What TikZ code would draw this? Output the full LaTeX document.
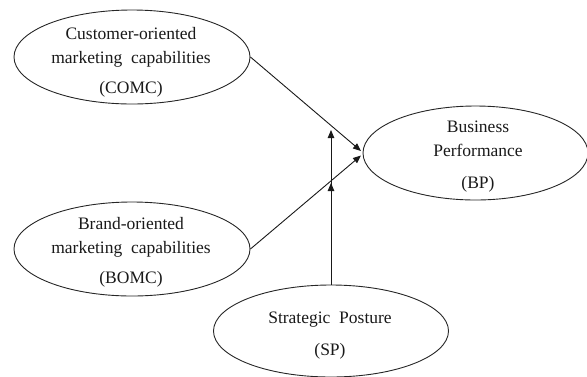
\documentclass[tikz,border=0pt]{standalone}
\usepackage{fontspec}
\setmainfont{Liberation Serif}
\usetikzlibrary{shapes.geometric,arrows.meta}
\begin{document}
\begin{tikzpicture}[x=1pt,y=-1pt,
  ellip/.style={draw=black!85,line width=0.9pt,ellipse,inner sep=0pt},
  txt/.style={align=center,font=\fontsize{17.5}{24}\selectfont,inner sep=0pt,text=black!90},
  arr/.style={draw=black!90,line width=0.9pt,-{Triangle[length=8pt,width=6.5pt]}}]
\useasboundingbox (0,0) rectangle (587,376);
\node[ellip,minimum width=236pt,minimum height=94pt] (comc) at (132,57) {};
\node[ellip,minimum width=236pt,minimum height=94pt] (bomc) at (132,249) {};
\node[ellip,minimum width=225pt,minimum height=94pt] (bp) at (475.5,153) {};
\node[ellip,minimum width=235pt,minimum height=92pt] (sp) at (331,331) {};
\node[txt] (comct) at (131,62.5) {Customer-oriented\\marketing\ \ capabilities\\[6pt](COMC)};
\node[txt] (bomct) at (131,252.5) {Brand-oriented\\marketing\ \ capabilities\\[6pt](BOMC)};
\node[txt] (bpt) at (478,156.5) {Business\\Performance\\[8pt](BP)};
\node[txt] (spt) at (330,336) {Strategic\ \ Posture\\[8pt](SP)};
\coordinate (bpa) at (361,151);
\coordinate (bpb) at (361,155.5);
\coordinate (t1) at (331,130);
\coordinate (t2) at (331,183);
\draw[arr] (comc.east) -- (bpa);
\draw[arr] (bomc.east) -- (bpb);
\draw[arr] (sp.north) -- (t1);
\draw[arr] (sp.north) -- (t2);
\end{tikzpicture}
\end{document}
